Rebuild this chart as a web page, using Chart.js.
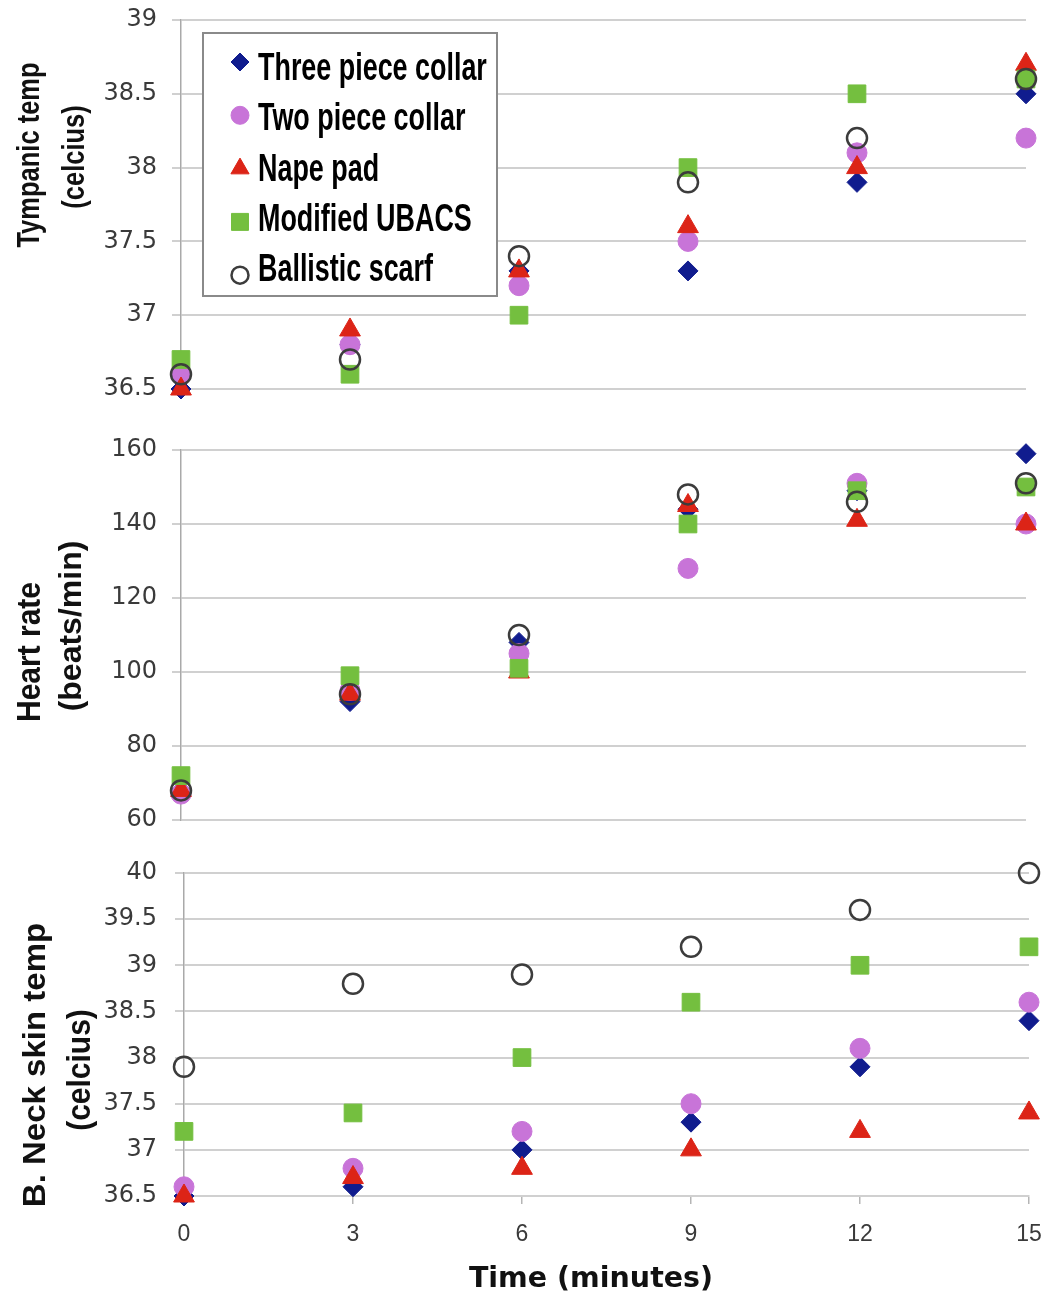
<!DOCTYPE html>
<html>
<head>
<meta charset="utf-8">
<title>Collar trial</title>
<script src="https://cdn.jsdelivr.net/npm/chart.js@4.4.1/dist/chart.umd.min.js"></script>
<style>
  body { margin: 0; background: #fff; }
  #wrap { position: relative; width: 1049px; height: 1303px; }
  #wrap canvas { position: absolute; left: 0; top: 0; }
</style>
</head>
<body>
<div id="wrap">
  <canvas id="tympanic" width="1049" height="1303"></canvas>
  <canvas id="heart" width="1049" height="1303"></canvas>
  <canvas id="neck" width="1049" height="1303"></canvas>
</div>
<script>
// Time points (minutes) shared by all three panels
const minutes = [0, 3, 6, 9, 12, 15];
const seriesNames = ["Three piece collar", "Two piece collar", "Nape pad", "Modified UBACS", "Ballistic scarf"];

// Tympanic temp (celcius)
const tympThree = [36.5, 36.8, 37.3, 37.3, 37.9, 38.5];
const tympTwo = [36.6, 36.8, 37.2, 37.5, 38.1, 38.2];
const tympNape = [36.5, 36.9, 37.3, 37.6, 38.0, 38.7];
const tympUbacs = [36.7, 36.6, 37.0, 38.0, 38.5, 38.6];
const tympScarf = [36.6, 36.7, 37.4, 37.9, 38.2, 38.6];

// Heart rate (beats/min)
const hrThree = [68, 92, 108, 144, 149, 159];
const hrTwo = [67, 95, 105, 128, 151, 140];
const hrNape = [68, 94, 100, 145, 141, 140];
const hrUbacs = [72, 99, 101, 140, 149, 150];
const hrScarf = [68, 94, 110, 148, 146, 151];

// Neck skin temp (celcius)
const neckThree = [36.5, 36.6, 37.0, 37.3, 37.9, 38.4];
const neckTwo = [36.6, 36.8, 37.2, 37.5, 38.1, 38.6];
const neckNape = [36.5, 36.7, 36.8, 37.0, 37.2, 37.4];
const neckUbacs = [37.2, 37.4, 38.0, 38.6, 39.0, 39.2];
const neckScarf = [37.9, 38.8, 38.9, 39.2, 39.6, 40.0];

// Axis tick values
const tympTicks = [36.5, 37, 37.5, 38, 38.5, 39];
const hrTicks = [60, 80, 100, 120, 140, 160];
const neckTicks = [36.5, 37, 37.5, 38, 38.5, 39, 39.5, 40];

// Marker look for each series
const pointLooks = [
  { pointStyle: "rectRot", radius: 10, fill: "#101c8e", legendRadius: 9 },
  { pointStyle: "circle", radius: 10, fill: "#c874d8", legendRadius: 9 },
  { pointStyle: "triangle", radius: 12, fill: "#dc2417", legendRadius: 10.5 },
  { pointStyle: "rect", radius: 12.5, fill: "#74bf3f", legendRadius: 12 },
  { pointStyle: "circle", radius: 10, fill: "rgba(255,255,255,0)", edge: "#3c3c3c", edgeWidth: 2.5, legendRadius: 8.5 },
];

const tickColor = "#3a3a3a";
const gridColor = "#d0d0d0";

function buildDatasets(seriesList) {
  return seriesList.map((values, i) => {
    const look = pointLooks[i];
    return {
      label: seriesNames[i],
      data: values.map((v, k) => ({ x: minutes[k], y: v })),
      pointStyle: look.pointStyle,
      pointRadius: look.radius,
      pointHoverRadius: look.radius,
      pointBackgroundColor: look.fill,
      pointBorderColor: look.edge || look.fill,
      pointBorderWidth: look.edgeWidth || 1,
      showLine: false,
      clip: false,
      // later series sit on top
      order: seriesList.length - 1 - i,
    };
  });
}

function yScale(ticks, axisWidth, labelPad) {
  return {
    type: "linear",
    min: ticks[0],
    max: ticks[ticks.length - 1],
    afterBuildTicks: (s) => { s.ticks = ticks.map((v) => ({ value: v })); },
    afterFit: (s) => {
      s.width = axisWidth;
      // labels may overhang the plot; keep the plot where the padding puts it
      s.paddingTop = 0;
      s.paddingBottom = 0;
    },
    grid: { color: gridColor, lineWidth: 2, tickLength: 9 },
    border: { color: "#a9a9a9", width: 1.5 },
    ticks: {
      padding: labelPad,
      color: tickColor,
      font: { family: "'DejaVu Sans', sans-serif", size: 24 },
      callback: (v) => String(v),
    },
  };
}

// Axis captions drawn as text, optionally rotated and widened
function captions(items) {
  return {
    id: "captions",
    afterDraw(chart) {
      const ctx = chart.ctx;
      items.forEach((c) => {
        ctx.save();
        ctx.translate(c.x, c.y);
        ctx.scale(c.stretch || 1, 1);
        if (c.vertical) ctx.rotate(-Math.PI / 2);
        ctx.font = "bold " + c.size + "px " + c.family;
        ctx.fillStyle = "#111";
        ctx.textAlign = "center";
        ctx.textBaseline = "alphabetic";
        ctx.fillText(c.text, 0, 0);
        ctx.restore();
      });
    },
  };
}

// Boxed legend inside the top panel
const boxLegend = {
  id: "boxLegend",
  afterDraw(chart) {
    const ctx = chart.ctx;
    ctx.save();
    ctx.fillStyle = "#fff";
    ctx.fillRect(203, 33, 294, 263);
    ctx.strokeStyle = "#8a8a8a";
    ctx.lineWidth = 2;
    ctx.strokeRect(203, 33, 294, 263);

    seriesNames.forEach((name, i) => {
      const look = pointLooks[i];
      const my = 62 + i * 53.3;
      ctx.fillStyle = look.fill;
      ctx.strokeStyle = look.edge || look.fill;
      ctx.lineWidth = look.edgeWidth || 1;
      Chart.helpers.drawPoint(ctx, {
        pointStyle: look.pointStyle,
        radius: look.legendRadius,
        rotation: 0,
        borderWidth: look.edgeWidth || 1,
      }, 240, my);

      ctx.save();
      ctx.translate(258, 80 + i * 50.3);
      ctx.scale(0.69, 1);
      ctx.font = "bold 39px 'Liberation Sans', Arial, sans-serif";
      ctx.fillStyle = "#000";
      ctx.textAlign = "left";
      ctx.textBaseline = "alphabetic";
      ctx.fillText(name, 0, 0);
      ctx.restore();
    });
    ctx.restore();
  },
};

const titleFont = "'Liberation Sans', Arial, sans-serif";

function panel(id, seriesList, yCfg, xCfg, padding, plugins) {
  new Chart(document.getElementById(id), {
    type: "scatter",
    data: { datasets: buildDatasets(seriesList) },
    options: {
      responsive: false,
      animation: false,
      events: [],
      layout: { padding },
      plugins: { legend: { display: false }, tooltip: { enabled: false } },
      scales: { x: xCfg, y: yCfg },
    },
    plugins,
  });
}

const hiddenX = { type: "linear", display: false, min: 0, max: 15 };

// Top panel: tympanic temperature
panel(
  "tympanic",
  [tympThree, tympTwo, tympNape, tympUbacs, tympScarf],
  yScale(tympTicks, 181, 15),
  hiddenX,
  { top: 20, bottom: 914, left: 0, right: 23 },
  [
    boxLegend,
    captions([
      { text: "Tympanic temp", x: 39, y: 155, size: 25.5, stretch: 1.23, vertical: true, family: titleFont },
      { text: "(celcius)", x: 84, y: 157, size: 25.5, stretch: 1.23, vertical: true, family: titleFont },
    ]),
  ]
);

// Middle panel: heart rate
panel(
  "heart",
  [hrThree, hrTwo, hrNape, hrUbacs, hrScarf],
  yScale(hrTicks, 181, 15),
  hiddenX,
  { top: 450, bottom: 483, left: 0, right: 23 },
  [
    captions([
      { text: "Heart rate", x: 40, y: 652, size: 30, stretch: 1.1, vertical: true, family: titleFont },
      { text: "(beats/min)", x: 81, y: 626, size: 32, stretch: 1.0, vertical: true, family: titleFont },
    ]),
  ]
);

// Bottom panel: neck skin temperature, carries the time axis
panel(
  "neck",
  [neckThree, neckTwo, neckNape, neckUbacs, neckScarf],
  yScale(neckTicks, 184, 18),
  {
    type: "linear",
    min: 0,
    max: 15,
    afterBuildTicks: (s) => { s.ticks = minutes.map((v) => ({ value: v })); },
    afterFit: (s) => {
      s.height = 107;
      s.paddingLeft = 0;
      s.paddingRight = 0;
    },
    grid: { drawOnChartArea: false, drawTicks: true, tickLength: 8, color: "#b5b5b5", lineWidth: 1.5 },
    border: { color: gridColor, width: 2 },
    ticks: {
      padding: 17,
      maxRotation: 0,
      color: tickColor,
      font: { family: "'Liberation Sans', Arial, sans-serif", size: 23 },
    },
  },
  { top: 873, bottom: 0, left: 0, right: 20 },
  [
    captions([
      { text: "B. Neck skin temp", x: 45, y: 1065, size: 33, stretch: 0.93, vertical: true, family: titleFont },
      { text: "(celcius)", x: 90, y: 1070, size: 30, stretch: 1.13, vertical: true, family: titleFont },
      { text: "Time (minutes)", x: 591, y: 1287, size: 28.5, family: "'DejaVu Sans', sans-serif" },
    ]),
  ]
);
</script>
</body>
</html>
